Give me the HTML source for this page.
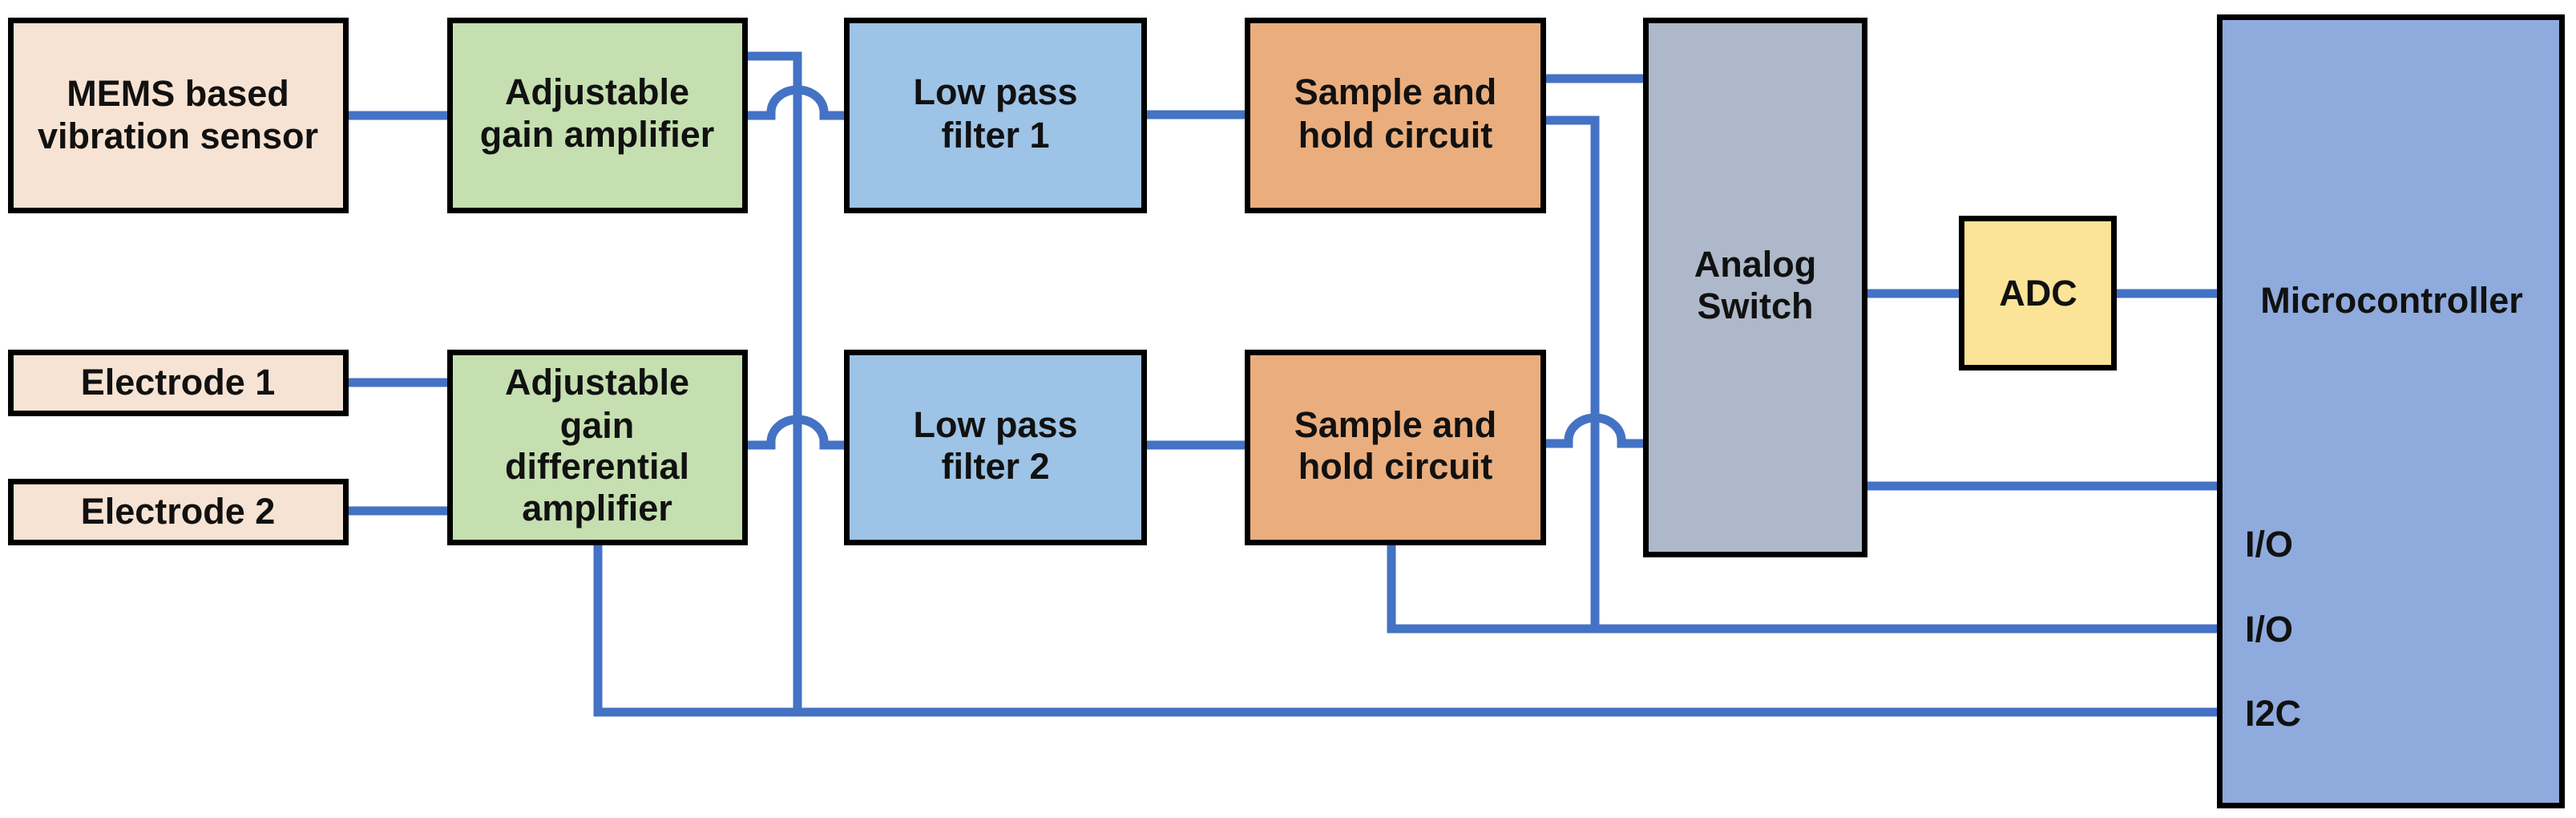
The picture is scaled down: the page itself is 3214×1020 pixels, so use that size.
<!DOCTYPE html>
<html><head><meta charset="utf-8"><style>
html,body{margin:0;padding:0;background:#fff;}
svg{display:block;}
text{font-family:"Liberation Sans",sans-serif;font-weight:bold;font-size:45px;fill:#111;}
</style></head><body>
<svg width="3214" height="1020" viewBox="0 0 3214 1020" xmlns="http://www.w3.org/2000/svg">
<g fill="none" stroke="#4472C4" stroke-width="11">
<line x1="435" y1="144" x2="558" y2="144"/>
<line x1="435" y1="477" x2="558" y2="477"/>
<line x1="435" y1="637" x2="558" y2="637"/>
<path d="M933,70 H995 V888"/>
<path d="M933,144 H962 V140 A33,28 0 0 1 1028,140 V144 H1053"/>
<path d="M933,555 H962 V551 A33,28 0 0 1 1028,551 V555 H1053"/>
<path d="M746,680 V888 H2766"/>
<line x1="1431" y1="143" x2="1553" y2="143"/>
<line x1="1431" y1="555" x2="1553" y2="555"/>
<line x1="1929" y1="98" x2="2050" y2="98"/>
<path d="M1929,150 H1990 V784"/>
<path d="M1929,553 H1957 V549 A33,28 0 0 1 2023,549 V553 H2050"/>
<path d="M1736,680 V784 H2766"/>
<line x1="2330" y1="366" x2="2444" y2="366"/>
<line x1="2641" y1="366" x2="2766" y2="366"/>
<line x1="2330" y1="606" x2="2766" y2="606"/>
</g>
<g stroke="#000" stroke-width="7">
<rect x="13.5" y="25.5" width="418" height="237" fill="#F7E3D3"/>
<rect x="561.5" y="25.5" width="368" height="237" fill="#C5DFB0"/>
<rect x="13.5" y="439.5" width="418" height="76" fill="#F7E3D3"/>
<rect x="13.5" y="600.5" width="418" height="76" fill="#F7E3D3"/>
<rect x="561.5" y="439.5" width="368" height="237" fill="#C5DFB0"/>
<rect x="1056.5" y="25.5" width="371" height="237" fill="#9DC3E6"/>
<rect x="1056.5" y="439.5" width="371" height="237" fill="#9DC3E6"/>
<rect x="1556.5" y="25.5" width="369" height="237" fill="#EAAE7E"/>
<rect x="1556.5" y="439.5" width="369" height="237" fill="#EAAE7E"/>
<rect x="2053.5" y="25.5" width="273" height="666" fill="#ADB9CA"/>
<rect x="2447.5" y="272.5" width="190" height="186" fill="#FBE498"/>
<rect x="2769.5" y="21.5" width="427" height="983" fill="#8FAADC"/>
</g>
<g text-anchor="middle">
<text x="222" y="132">MEMS based</text>
<text x="222" y="185">vibration sensor</text>
<text x="745" y="130">Adjustable</text>
<text x="745" y="183">gain amplifier</text>
<text x="222" y="492">Electrode 1</text>
<text x="222" y="653">Electrode 2</text>
<text x="745" y="492">Adjustable</text>
<text x="745" y="546">gain</text>
<text x="745" y="597">differential</text>
<text x="745" y="649">amplifier</text>
<text x="1242" y="130">Low pass</text>
<text x="1242" y="184">filter 1</text>
<text x="1242" y="545">Low pass</text>
<text x="1242" y="597">filter 2</text>
<text x="1741" y="130">Sample and</text>
<text x="1741" y="184">hold circuit</text>
<text x="1741" y="545">Sample and</text>
<text x="1741" y="597">hold circuit</text>
<text x="2190" y="345">Analog</text>
<text x="2190" y="397">Switch</text>
<text x="2543" y="381">ADC</text>
<text x="2984" y="390">Microcontroller</text>
</g>
<text x="2801" y="694">I/O</text>
<text x="2801" y="800">I/O</text>
<text x="2801" y="905">I2C</text>
</svg>
</body></html>
